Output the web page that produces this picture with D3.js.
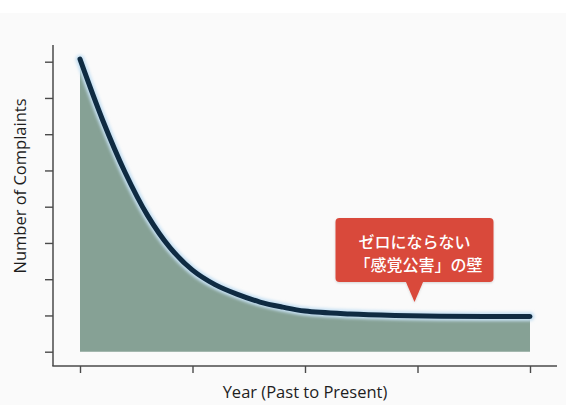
<!DOCTYPE html>
<html>
<head>
<meta charset="utf-8">
<script src="https://cdn.jsdelivr.net/npm/d3@7/dist/d3.min.js"></script>
<style>
  html, body { margin: 0; padding: 0; background: #ffffff; }
  svg { display: block; }
</style>
</head>
<body>
<svg id="chart" width="566" height="405"></svg>
<script>
// Complaints over time: a steep fall that levels off above zero
const years = [0, 2, 4, 6, 8, 10, 12, 14, 16, 18, 20, 24, 28, 32, 36, 40];
const complaints = [8.07, 6.40, 4.95, 3.76, 2.87, 2.25, 1.85, 1.58, 1.37, 1.23, 1.12, 1.04, 1.00, 0.98, 0.97, 0.97];
const xTicks = [0, 10, 20, 30, 40];
const yTicks = [0, 1, 2, 3, 4, 5, 6, 7, 8];
const calloutLines = ["ゼロにならない", "「感覚公害」の壁"];
const calloutYear = 30;
const xTitle = "Year (Past to Present)";
const yTitle = "Number of Complaints";

const data = years.map((t, i) => ({ t, v: complaints[i] }));

const svg = d3.select("#chart");
const W = 566, H = 405;

// soft grey page panel
svg.append("rect").attr("x", 0).attr("y", 13).attr("width", W).attr("height", H - 13).attr("fill", "#fafafa");

const x = d3.scaleLinear().domain([0, 40]).range([80, 530]);
const y = d3.scaleLinear().domain([0, 8]).range([351.7, 61.7]);

const defs = svg.append("defs");
defs.append("filter").attr("id", "glow").attr("x", "-10%").attr("y", "-10%").attr("width", "120%").attr("height", "120%")
  .append("feGaussianBlur").attr("stdDeviation", 1.8);
const sh = defs.append("filter").attr("id", "shadow").attr("x", "-10%").attr("y", "-10%").attr("width", "120%").attr("height", "130%");
sh.append("feDropShadow").attr("dx", 0).attr("dy", 1).attr("stdDeviation", 1.2).attr("flood-color", "#000").attr("flood-opacity", 0.15);

const curve = d3.curveCatmullRom.alpha(0.5);

// filled area under the curve
const area = d3.area().x(d => x(d.t)).y0(y(0)).y1(d => y(d.v)).curve(curve);
svg.append("path").datum(data).attr("d", area).attr("fill", "#86a195");

// glow behind the line, then the line itself
const line = d3.line().x(d => x(d.t)).y(d => y(d.v)).curve(curve);
svg.append("path").datum(data).attr("d", line)
  .attr("fill", "none").attr("stroke", "#c6e0f3").attr("stroke-width", 9)
  .attr("stroke-linecap", "round").attr("filter", "url(#glow)");
svg.append("path").datum(data).attr("d", line)
  .attr("fill", "none").attr("stroke", "#0f2b42").attr("stroke-width", 5)
  .attr("stroke-linecap", "round").attr("stroke-linejoin", "round");

// axes
const axisColor = "#4a4a4a";
const yAxis = d3.axisLeft(y).tickValues(yTicks).tickSize(8).tickFormat("").tickSizeOuter(0);
const gy = svg.append("g").attr("transform", "translate(53,0)").call(yAxis);
gy.select(".domain").remove();
gy.selectAll(".tick line").attr("stroke", axisColor).attr("stroke-width", 1.4);
svg.append("line").attr("x1", 53).attr("x2", 53).attr("y1", 45).attr("y2", 366)
  .attr("stroke", axisColor).attr("stroke-width", 1.5);

const xAxis = d3.axisBottom(x).tickValues(xTicks).tickSize(7).tickFormat("").tickSizeOuter(0);
const gx = svg.append("g").attr("transform", "translate(0,366)").call(xAxis);
gx.select(".domain").remove();
gx.selectAll(".tick line").attr("stroke", axisColor).attr("stroke-width", 1.4);
svg.append("line").attr("x1", 52.3).attr("x2", 557).attr("y1", 366).attr("y2", 366)
  .attr("stroke", axisColor).attr("stroke-width", 1.5);

// axis titles
const font = "'Open Sans', 'Noto Sans', sans-serif";
svg.append("text").attr("x", x(20)).attr("y", 398).attr("text-anchor", "middle")
  .attr("font-family", font).attr("font-size", 16.5).attr("font-weight", 500).attr("fill", "#1e1e1e").text(xTitle);
svg.append("text").attr("transform", "translate(26,186) rotate(-90)").attr("text-anchor", "middle")
  .attr("font-family", font).attr("font-size", 16.5).attr("font-weight", 500).attr("fill", "#1e1e1e").text(yTitle);

// callout bubble pointing at the plateau
const cx = x(calloutYear) - 3;
const tipY = 302;
const bw = 158, bh = 64, bTop = 218;
const g = svg.append("g").attr("filter", "url(#shadow)");
g.append("rect").attr("x", cx - 79).attr("y", bTop).attr("width", bw).attr("height", bh).attr("rx", 4)
  .attr("fill", "#d9493b");
g.append("path").attr("d", `M${cx - 9},${bTop + bh - 1} L${cx + 9},${bTop + bh - 1} L${cx},${tipY} Z`).attr("fill", "#d9493b");
svg.append("text").attr("x", cx).attr("y", 248).attr("text-anchor", "middle")
  .attr("font-family", "'Noto Sans CJK JP', sans-serif").attr("font-size", 16).attr("font-weight", 500)
  .attr("fill", "#ffffff").text(calloutLines[0]);
svg.append("text").attr("x", cx + 4).attr("y", 271).attr("text-anchor", "middle")
  .attr("font-family", "'Noto Sans CJK JP', sans-serif").attr("font-size", 16).attr("font-weight", 500)
  .attr("fill", "#ffffff").text(calloutLines[1]);
</script>
</body>
</html>
